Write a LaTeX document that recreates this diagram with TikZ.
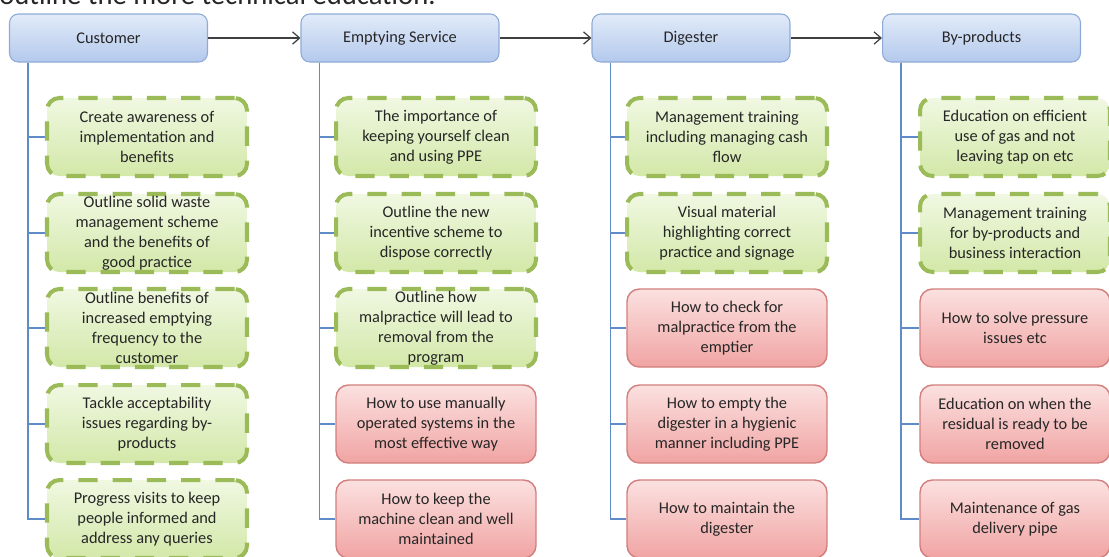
\documentclass[tikz,border=0pt]{standalone}
\usepackage{fontspec}
\setmainfont{Carlito}
\usetikzlibrary{arrows.meta}
\definecolor{headtop}{HTML}{E2EBF9}
\definecolor{headbot}{HTML}{B3C9EC}
\definecolor{headline}{HTML}{8EABD8}
\definecolor{trunkblue}{HTML}{5F8BC8}
\definecolor{greentop}{HTML}{F0F8E2}
\definecolor{greenbot}{HTML}{D3E8A8}
\definecolor{greenline}{HTML}{9BBB59}
\definecolor{pinktop}{HTML}{FBE1E0}
\definecolor{pinkbot}{HTML}{F0A4A3}
\definecolor{pinkline}{HTML}{D27E7C}
\definecolor{inkgrey}{HTML}{262626}
\tikzset{
	head/.style={draw=headline, line width=0.6pt, top color=headtop, bottom color=headbot, rounded corners=5pt, minimum width=3.96cm, minimum height=0.96cm, font=\fontsize{9.3}{11.4}\selectfont, text=inkgrey},
	topic/.style={minimum width=4cm, minimum height=1.56cm, inner sep=0pt, align=center, rounded corners=7pt, font=\fontsize{9.3}{11.4}\selectfont, text=inkgrey},
	soft/.style={topic, draw=greenline, line width=2.3pt, dash pattern=on 11pt off 8.5pt, top color=greentop, bottom color=greenbot},
	hard/.style={topic, draw=pinkline, line width=0.8pt, top color=pinktop, bottom color=pinkbot},
	trunk/.style={draw=trunkblue, line width=1.1pt},
	flow/.style={draw=black!75, line width=0.7pt, -{Straight Barb[length=4pt,width=7pt]}}
}

\begin{document}
\begin{tikzpicture}[x=0.02cm, y=-0.02cm]
			%%%%% START %%%%%
			\useasboundingbox (0,0) rectangle (1109,556);
			\clip (0,0) rectangle (1109,556);
			
			\node[anchor=base west, inner sep=0pt, font=\fontsize{16.3}{19}\selectfont, text=black!85] (lead) at (-1,4) {outline the more technical education.};
			
			% heads
			\node[head] (cust) at (108.5,38) {Customer};
			\node[head] (empt) at (400,38) {Emptying Service};
			\node[head] (dige) at (691,38) {Digester};
			\node[head] (bypr) at (981.5,38) {By-products};
			
			\draw[flow] (cust) -- (empt);
			\draw[flow] (empt) -- (dige);
			\draw[flow] (dige) -- (bypr);
			
			% customer
			\node[soft] (cust1) at (147,137) {Create awareness of\\implementation and\\benefits};
			\node[soft] (cust2) at (147,233) {Outline solid waste\\management scheme\\and the benefits of\\good practice};
			\node[soft] (cust3) at (147,328) {Outline benefits of\\increased emptying\\frequency to the\\customer};
			\node[soft] (cust4) at (147,424) {Tackle acceptability\\issues regarding by-\\products};
			\node[soft] (cust5) at (147,519) {Progress visits to keep\\people informed and\\address any queries};
			
			% emptying service
			\node[soft] (empt1) at (436,137) {The importance of\\keeping yourself clean\\and using PPE};
			\node[soft] (empt2) at (436,233) {Outline the new\\incentive scheme to\\dispose correctly};
			\node[soft] (empt3) at (436,328) {Outline how\\malpractice will lead to\\removal from the\\program};
			\node[hard] (empt4) at (436,424) {How to use manually\\operated systems in the\\most effective way};
			\node[hard] (empt5) at (436,519) {How to keep the\\machine clean and well\\maintained};
			
			% digester
			\node[soft] (dige1) at (727,137) {Management training\\including managing cash\\flow};
			\node[soft] (dige2) at (727,233) {Visual material\\highlighting correct\\practice and signage};
			\node[hard] (dige3) at (727,328) {How to check for\\malpractice from the\\emptier};
			\node[hard] (dige4) at (727,424) {How to empty the\\digester in a hygienic\\manner including PPE};
			\node[hard] (dige5) at (727,519) {How to maintain the\\digester};
			
			% by-products
			\node[soft, minimum width=3.8cm] (bypr1) at (1015,137) {Education on efficient\\use of gas and not\\leaving tap on etc};
			\node[soft, minimum width=3.8cm] (bypr2) at (1015,233) {Management training\\for by-products and\\business interaction};
			\node[hard, minimum width=3.8cm] (bypr3) at (1015,328) {How to solve pressure\\issues etc};
			\node[hard, minimum width=3.8cm] (bypr4) at (1015,424) {Education on when the\\residual is ready to be\\removed};
			\node[hard, minimum width=3.8cm] (bypr5) at (1015,519) {Maintenance of gas\\delivery pipe};
			
			\coordinate (custT) at ([xshift=0.38cm]cust.south west);
			\coordinate (emptT) at ([xshift=0.38cm]empt.south west);
			\coordinate (digeT) at ([xshift=0.38cm]dige.south west);
			\coordinate (byprT) at ([xshift=0.38cm]bypr.south west);
			
			\draw[trunk] (custT) |- (cust1.west);
			\draw[trunk] (custT) |- (cust2.west);
			\draw[trunk] (custT) |- (cust3.west);
			\draw[trunk] (custT) |- (cust4.west);
			\draw[trunk] (custT) |- (cust5.west);
			
			\draw[trunk] (emptT) |- (empt1.west);
			\draw[trunk] (emptT) |- (empt2.west);
			\draw[trunk] (emptT) |- (empt3.west);
			\draw[trunk] (emptT) |- (empt4.west);
			\draw[trunk] (emptT) |- (empt5.west);
			
			\draw[trunk] (digeT) |- (dige1.west);
			\draw[trunk] (digeT) |- (dige2.west);
			\draw[trunk] (digeT) |- (dige3.west);
			\draw[trunk] (digeT) |- (dige4.west);
			\draw[trunk] (digeT) |- (dige5.west);
			
			\draw[trunk] (byprT) |- (bypr1.west);
			\draw[trunk] (byprT) |- (bypr2.west);
			\draw[trunk] (byprT) |- (bypr3.west);
			\draw[trunk] (byprT) |- (bypr4.west);
			\draw[trunk] (byprT) |- (bypr5.west);
			%%%%% END %%%%%
		\end{tikzpicture}
\end{document}
